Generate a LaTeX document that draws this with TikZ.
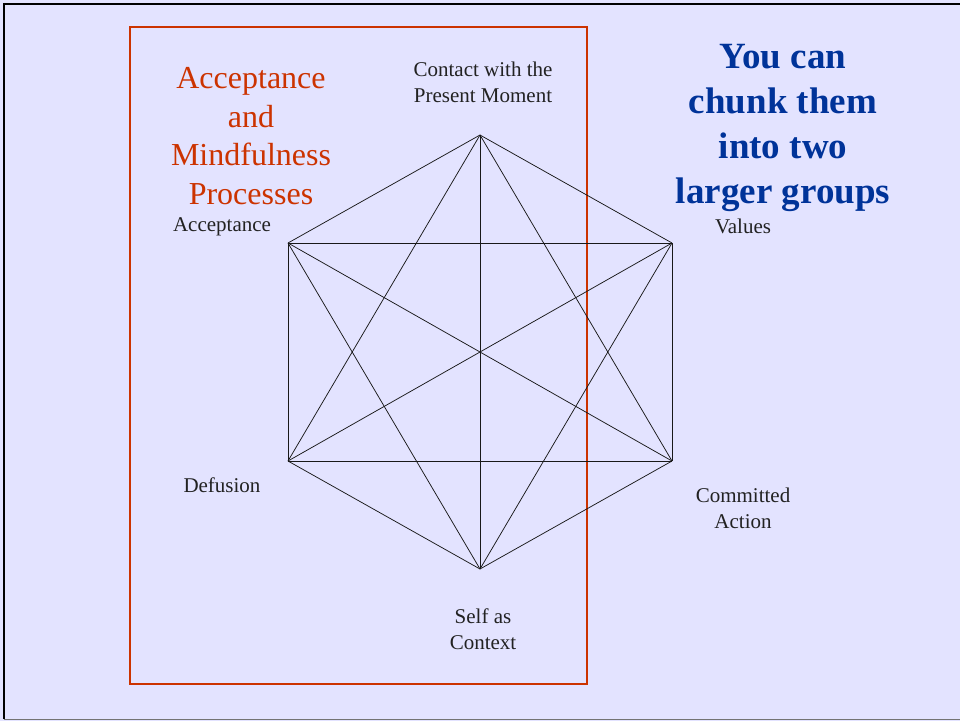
\documentclass[tikz,border=0pt]{standalone}
\usepackage{fontspec}
\setmainfont{Liberation Serif}
\definecolor{bgc}{HTML}{E3E3FF}
\definecolor{redc}{HTML}{CC3300}
\definecolor{bluec}{HTML}{003399}
\definecolor{txt}{HTML}{222222}
\begin{document}
\begin{tikzpicture}[x=1pt,y=-1pt,
  lbl/.style={text=txt,font=\fontsize{21}{26}\selectfont,align=center,inner sep=0pt},
  edge/.style={draw=black!90,line width=0.75pt}]
\useasboundingbox (0,0) rectangle (960,721);
\fill[bgc] (0,0) rectangle (960,721);
\draw[black,line width=2pt] (4,719) -- (4,4) -- (960,4);
\draw[black!55,line width=1pt] (4,719.5) -- (960,719.5);
\draw[redc,line width=2.6pt] (130,27) rectangle (587,684);
% vertices
\coordinate (T) at (480,135);
\coordinate (UL) at (288,243);
\coordinate (UR) at (672,243);
\coordinate (LL) at (288,461);
\coordinate (LR) at (672,461);
\coordinate (B) at (480,569);
\foreach \a/\b in {T/UL,T/UR,T/LL,T/LR,T/B,UL/UR,UL/LL,UL/LR,UL/B,UR/LL,UR/LR,UR/B,LL/LR,LL/B,LR/B}
  \draw[edge] (\a) -- (\b);
% labels
\node[lbl] (lT) at (483,82) {Contact with the\\Present Moment};
\node[lbl] (lUL) at (222,227) {Acceptance};
\node[lbl] (lUR) at (743,226) {Values};
\node[lbl] (lLL) at (222,485) {Defusion};
\node[lbl] (lLR) at (743,508) {Committed\\Action};
\node[lbl] (lB) at (483,629) {Self as\\Context};
\node[text=redc,font=\fontsize{32}{38.5}\selectfont,align=center,inner sep=0pt] (red) at (251,136) {Acceptance\\and\\Mindfulness\\Processes};
\node[text=bluec,font=\bfseries\fontsize{37}{45.3}\selectfont,align=center,inner sep=0pt] (blue) at (783,128) {You can\\chunk them\\into two\\larger groups};
\end{tikzpicture}
\end{document}
